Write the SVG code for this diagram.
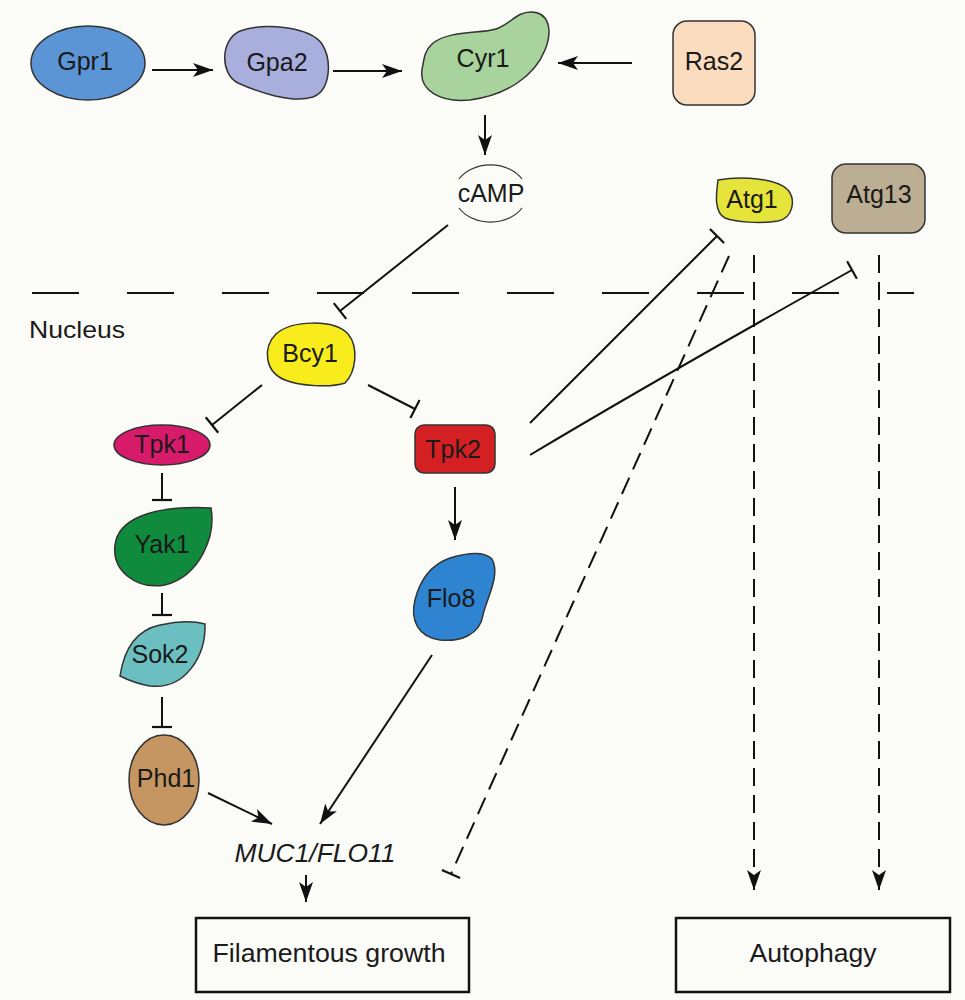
<svg xmlns="http://www.w3.org/2000/svg" width="965" height="1000" viewBox="0 0 965 1000">
<style>
.node{stroke:#333;stroke-width:1.5}
.lbl{font-family:"Liberation Sans",Arial,sans-serif;font-size:25px;fill:#1a1a1a;text-anchor:middle}
.edge{fill:none;stroke:#111;stroke-width:2}
.dash{stroke-dasharray:18 9}
.box{fill:none;stroke:#111;stroke-width:2.5}
</style>
<defs>
<marker id="arr" markerUnits="userSpaceOnUse" markerWidth="22" markerHeight="16" refX="20" refY="8" orient="auto">
<path d="M0,1 L20,8 L0,15 L5,8 Z" fill="#111"/>
</marker>
<marker id="bar" markerUnits="userSpaceOnUse" markerWidth="4" markerHeight="22" refX="2" refY="11" orient="auto">
<path d="M2,1 V21" stroke="#111" stroke-width="2.2" fill="none"/>
</marker>
</defs>
<rect x="0" y="0" width="965" height="1000" fill="#fbfbf8"/>

<g id="nucleus-boundary">
<line x1="32" y1="293" x2="914" y2="293" stroke="#111" stroke-width="2" stroke-dasharray="47 48"/>
<text x="29" y="338" style="font-family:'Liberation Sans',Arial,sans-serif;font-size:24px;fill:#1a1a1a" textLength="96" lengthAdjust="spacingAndGlyphs">Nucleus</text>
</g>

<g id="connectors">
<line class="edge" x1="152" y1="70" x2="213" y2="70" marker-end="url(#arr)"/>
<line class="edge" x1="333" y1="71" x2="402" y2="71" marker-end="url(#arr)"/>
<line class="edge" x1="632" y1="63" x2="558" y2="63" marker-end="url(#arr)"/>
<line class="edge" x1="485" y1="115" x2="485" y2="155" marker-end="url(#arr)"/>
<line class="edge" x1="448" y1="225" x2="340" y2="311" marker-end="url(#bar)"/>
<line class="edge" x1="262" y1="385" x2="212" y2="425" marker-end="url(#bar)"/>
<line class="edge" x1="368" y1="385" x2="415" y2="409" marker-end="url(#bar)"/>
<line class="edge" x1="162" y1="473" x2="162" y2="500" marker-end="url(#bar)"/>
<line class="edge" x1="162" y1="593" x2="162" y2="615" marker-end="url(#bar)"/>
<line class="edge" x1="162" y1="697" x2="162" y2="727" marker-end="url(#bar)"/>
<line class="edge" x1="455" y1="487" x2="455" y2="540" marker-end="url(#arr)"/>
<line class="edge" x1="432" y1="655" x2="320" y2="824" marker-end="url(#arr)"/>
<line class="edge" x1="208" y1="793" x2="272" y2="824" marker-end="url(#arr)"/>
<line class="edge" x1="306" y1="875" x2="306" y2="902" marker-end="url(#arr)"/>
<line class="edge" x1="530" y1="423" x2="717" y2="236" marker-end="url(#bar)"/>
<path class="edge" d="M530,455 Q659,378 852,270" marker-end="url(#bar)"/>
<line class="edge dash" x1="729" y1="256" x2="451" y2="874" marker-end="url(#bar)"/>
<line class="edge dash" x1="754" y1="255" x2="754" y2="890" marker-end="url(#arr)"/>
<line class="edge dash" x1="879" y1="255" x2="879" y2="890" marker-end="url(#arr)"/>
</g>

<g id="Gpr1">
<ellipse class="node" cx="88" cy="63" rx="57" ry="37" fill="#5c95d6"/>
<text class="lbl" x="85" y="70">Gpr1</text>
</g>
<g id="Gpa2">
<path class="node" fill="#a9afdc" d="M240,31 C265,22 310,27 322,44 C332,60 331,90 313,97 C292,104 258,92 238,83 C220,74 220,40 240,31 Z"/>
<text class="lbl" x="277" y="71">Gpa2</text>
</g>
<g id="Cyr1">
<path class="node" fill="#a8d39c" d="M432,44 C448,30 480,34 496,29 C511,24 516,12 531,12 C549,12 553,30 545,50 C535,75 508,95 470,100 C440,103 419,90 422,70 C424,58 425,50 432,44 Z"/>
<text class="lbl" x="483" y="67">Cyr1</text>
</g>
<g id="Ras2">
<rect class="node" x="673" y="21" width="82" height="84" rx="14" fill="#fbdcbe"/>
<text class="lbl" x="714" y="70">Ras2</text>
</g>
<g id="cAMP">
<path d="M459,179 A36.5,28.5 0 0 1 522,179 M522,208 A36.5,28.5 0 0 1 459,208" fill="none" stroke="#333" stroke-width="1.2"/>
<text class="lbl" x="491" y="202">cAMP</text>
</g>
<g id="Atg1">
<path class="node" fill="#e4e43a" d="M718,180 C742,176 776,178 788,190 C796,200 793,218 778,221 C760,224 735,222 725,218 C714,212 716,195 718,180 Z"/>
<text class="lbl" x="752" y="208">Atg1</text>
</g>
<g id="Atg13">
<rect class="node" x="832" y="164" width="93" height="69" rx="14" fill="#bcae92"/>
<text class="lbl" x="879" y="203">Atg13</text>
</g>
<g id="Bcy1">
<path class="node" fill="#f8ec1c" d="M276,334 C292,320 334,319 348,334 C359,347 356,372 345,383 C330,388 300,386 285,380 C265,372 262,348 276,334 Z"/>
<text class="lbl" x="310" y="362">Bcy1</text>
</g>
<g id="Tpk1">
<ellipse class="node" cx="162" cy="445" rx="48" ry="20" fill="#d81a6a"/>
<text class="lbl" x="162" y="453">Tpk1</text>
</g>
<g id="Tpk2">
<rect class="node" x="415" y="425" width="80" height="48" rx="9" fill="#d42022"/>
<text class="lbl" x="453" y="458">Tpk2</text>
</g>
<g id="Yak1">
<path class="node" fill="#108a3c" d="M211,508 C216,536 200,576 165,585 C135,590 112,570 115,545 C118,520 150,505 211,508 Z"/>
<text class="lbl" x="162" y="553">Yak1</text>
</g>
<g id="Flo8">
<path class="node" fill="#2f84d2" d="M492,559 C501,575 486,600 483,615 C480,635 460,642 440,640 C418,637 410,620 415,600 C420,580 430,565 450,558 C470,552 485,552 492,559 Z"/>
<text class="lbl" x="451" y="607">Flo8</text>
</g>
<g id="Sok2">
<path class="node" fill="#6bbfc1" d="M205,624 C206,655 186,690 150,686 C138,684 128,680 120,676 C124,650 136,630 160,625 C178,621 195,621 205,624 Z"/>
<text class="lbl" x="160" y="663">Sok2</text>
</g>
<g id="Phd1">
<ellipse class="node" cx="164" cy="780" rx="35" ry="45" fill="#c59661"/>
<text class="lbl" x="166" y="787">Phd1</text>
</g>
<g id="MUC1-FLO11">
<text class="lbl" x="315" y="862" style="font-style:italic" textLength="161" lengthAdjust="spacingAndGlyphs">MUC1/FLO11</text>
</g>
<g id="Filamentous-growth">
<rect class="box" x="196" y="918" width="273" height="74"/>
<text class="lbl" x="329" y="962" textLength="233" lengthAdjust="spacingAndGlyphs">Filamentous growth</text>
</g>
<g id="Autophagy">
<rect class="box" x="676" y="918" width="274" height="74"/>
<text class="lbl" x="813" y="962" textLength="127" lengthAdjust="spacingAndGlyphs">Autophagy</text>
</g>
</svg>
